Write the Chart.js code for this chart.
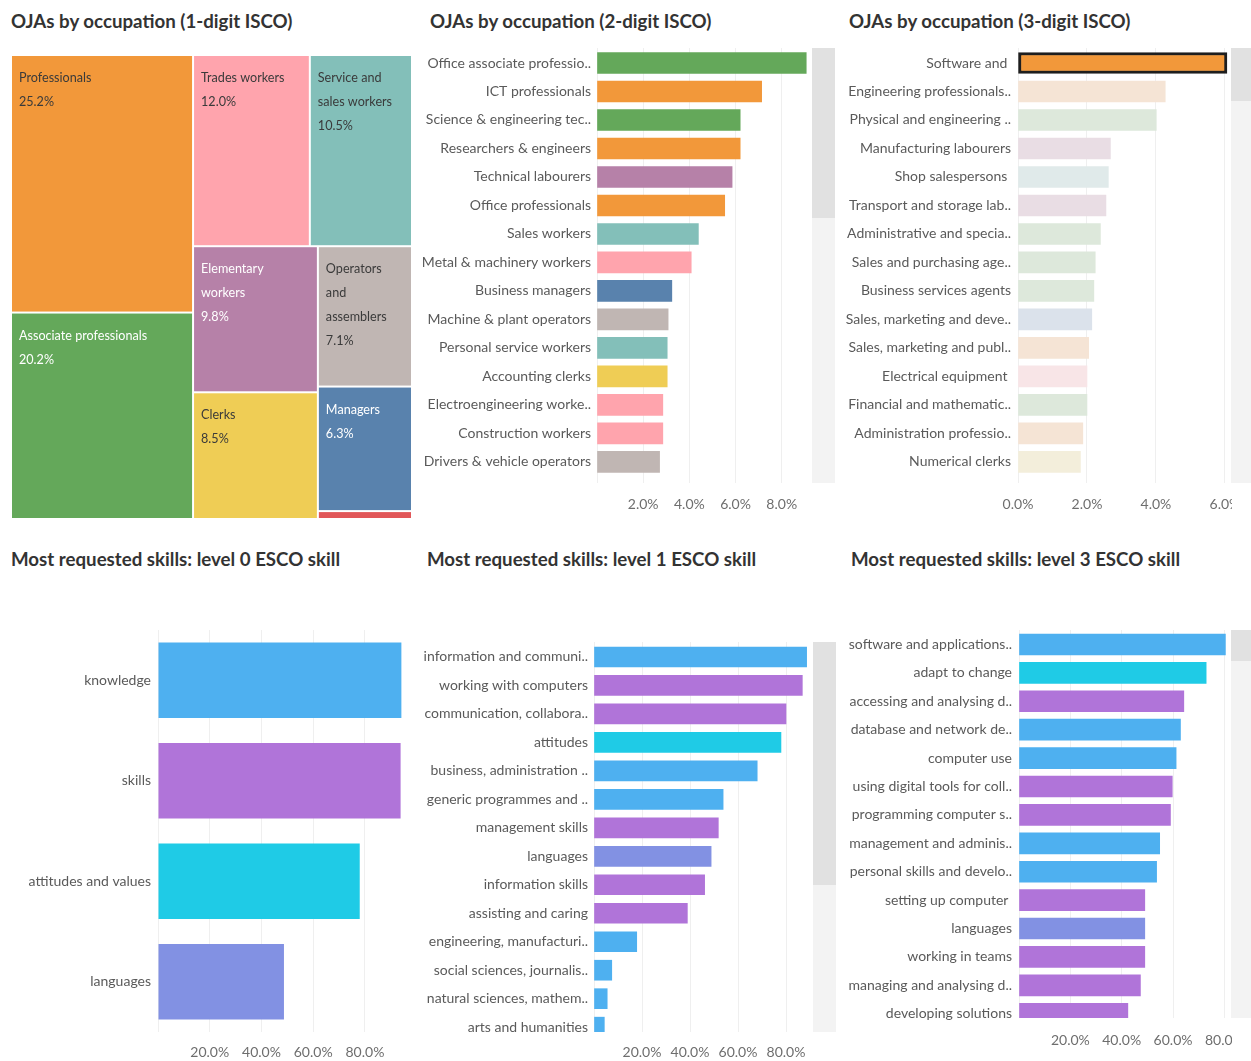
<!DOCTYPE html>
<html>
<head>
<meta charset="utf-8">
<script src="https://cdn.jsdelivr.net/npm/chart.js@4.4.1/dist/chart.umd.min.js"></script>
<style>
  body { margin: 0; background: #fff; }
  #board { position: relative; width: 1251px; height: 1061px; overflow: hidden; }
  .title { position: absolute; height: 24px; line-height: 24px; white-space: nowrap;
           font: bold 18.7px Lato, sans-serif; color: #333; }
  canvas { position: absolute; }
  .track { position: absolute; background: #f3f3f3; }
  .thumb { position: absolute; background: #e1e1e1; }
</style>
</head>
<body>
<div id="board">
  <div class="title" style="left:11px;top:10px">OJAs by occupation (1-digit ISCO)</div>
  <div class="title" style="left:430px;top:10px">OJAs by occupation (2-digit ISCO)</div>
  <div class="title" style="left:849px;top:10px">OJAs by occupation (3-digit ISCO)</div>
  <div class="title" style="left:11px;top:548px">Most requested skills: level 0 ESCO skill</div>
  <div class="title" style="left:427px;top:548px">Most requested skills: level 1 ESCO skill</div>
  <div class="title" style="left:851px;top:548px">Most requested skills: level 3 ESCO skill</div>

  <canvas id="isco1" width="420" height="490" style="left:0;top:40px"></canvas>
  <canvas id="isco2" width="392" height="480" style="left:420px;top:40px"></canvas>
  <canvas id="isco3" width="397" height="480" style="left:835px;top:40px"></canvas>
  <canvas id="skill0" width="410" height="461" style="left:0;top:600px"></canvas>
  <canvas id="skill1" width="398" height="461" style="left:415px;top:600px"></canvas>
  <canvas id="skill3" width="397" height="461" style="left:835px;top:600px"></canvas>

  <!-- scrollbars -->
  <div class="track" style="left:812px;top:48px;width:23px;height:435px"></div>
  <div class="thumb" style="left:812px;top:48px;width:23px;height:170px"></div>
  <div class="track" style="left:1231px;top:48px;width:20px;height:435px"></div>
  <div class="thumb" style="left:1231px;top:48px;width:20px;height:53px"></div>
  <div class="track" style="left:813px;top:642px;width:23px;height:390px"></div>
  <div class="thumb" style="left:813px;top:642px;width:23px;height:243px"></div>
  <div class="track" style="left:1231px;top:630px;width:20px;height:388px"></div>
  <div class="thumb" style="left:1231px;top:630px;width:20px;height:31px"></div>
</div>

<script>
// 1-digit ISCO (treemap)
const isco1Labels = ["Professionals", "Associate professionals", "Trades workers", "Service and sales workers",
    "Elementary workers", "Operators and assemblers", "Clerks", "Managers", "Armed forces"];
const isco1Text = ["Professionals", "Associate professionals", "Trades workers", "Service and\nsales workers",
    "Elementary\nworkers", "Operators\nand\nassemblers", "Clerks", "Managers", ""];
const isco1Values = [25.2, 20.2, 12.0, 10.5, 9.8, 7.1, 8.5, 6.3, 0.4];
// how the cells are nested: h = side by side, v = stacked
const isco1Tree = ["h", ["v", 0, 1], ["v", ["h", 2, 3], ["h", ["v", 4, 6], ["v", 5, 7, 8]]]];

// 2-digit ISCO
const isco2Labels = ["Office associate professio..", "ICT professionals", "Science & engineering tec..",
    "Researchers & engineers", "Technical labourers", "Office professionals", "Sales workers",
    "Metal & machinery workers", "Business managers", "Machine & plant operators", "Personal service workers",
    "Accounting clerks", "Electroengineering worke..", "Construction workers", "Drivers & vehicle operators"];
const isco2Values = [9.06, 7.13, 6.2, 6.2, 5.85, 5.53, 4.39, 4.08, 3.24, 3.08, 3.04, 3.04, 2.85, 2.85, 2.71];
const isco2Groups = ["Associate professionals", "Professionals", "Associate professionals", "Professionals",
    "Elementary workers", "Professionals", "Service and sales workers", "Trades workers", "Managers",
    "Operators and assemblers", "Service and sales workers", "Clerks", "Trades workers", "Trades workers",
    "Operators and assemblers"];

// 3-digit ISCO
const isco3Labels = ["Software and ", "Engineering professionals..", "Physical and engineering ..",
    "Manufacturing labourers", "Shop salespersons ", "Transport and storage lab..", "Administrative and specia..",
    "Sales and purchasing age..", "Business services agents", "Sales, marketing and deve..",
    "Sales, marketing and publ..", "Electrical equipment ", "Financial and mathematic..",
    "Administration professio..", "Numerical clerks"];
const isco3Values = [6.06, 4.27, 4.01, 2.68, 2.62, 2.55, 2.39, 2.24, 2.2, 2.14, 2.05, 2.0, 2.0, 1.88, 1.81];
const isco3Groups = ["Professionals", "Professionals", "Associate professionals", "Elementary workers",
    "Service and sales workers", "Elementary workers", "Associate professionals", "Associate professionals",
    "Associate professionals", "Managers", "Professionals", "Trades workers", "Associate professionals",
    "Professionals", "Clerks"];
const isco3Selected = 0;

// ESCO skills
const skill0Labels = ["knowledge", "skills", "attitudes and values", "languages"];
const skill0Values = [94.1, 93.8, 78.0, 48.7];

const skill1Labels = ["information and communi..", "working with computers", "communication, collabora..",
    "attitudes", "business, administration ..", "generic programmes and ..", "management skills", "languages",
    "information skills", "assisting and caring", "engineering, manufacturi..", "social sciences, journalis..",
    "natural sciences, mathem..", "arts and humanities"];
const skill1Values = [88.6, 86.8, 80.0, 77.9, 68.0, 53.8, 51.8, 48.8, 46.1, 38.9, 17.8, 7.4, 5.5, 4.3];
const skill1Types = ["knowledge", "skills", "skills", "attitudes and values", "knowledge", "knowledge", "skills",
    "languages", "skills", "skills", "knowledge", "knowledge", "knowledge", "knowledge"];

const skill3Labels = ["software and applications..", "adapt to change", "accessing and analysing d..",
    "database and network de..", "computer use", "using digital tools for coll..", "programming computer s..",
    "management and adminis..", "personal skills and develo..", "setting up computer ", "languages",
    "working in teams", "managing and analysing d..", "developing solutions"];
const skill3Values = [80.4, 72.9, 64.2, 62.9, 61.2, 59.7, 59.0, 54.8, 53.6, 49.0, 49.0, 49.0, 47.3, 42.4];
const skill3Types = ["knowledge", "attitudes and values", "skills", "knowledge", "knowledge", "skills", "skills",
    "knowledge", "knowledge", "skills", "languages", "skills", "skills", "skills"];

// colours
const groupColors = {
    "Professionals": "#f2983a", "Associate professionals": "#64a85a", "Trades workers": "#ffa4ad",
    "Service and sales workers": "#83bfb9", "Elementary workers": "#b681a8", "Operators and assemblers": "#c0b6b3",
    "Clerks": "#efcd55", "Managers": "#5982ad", "Armed forces": "#e15759"
};
const paleColors = {
    "Professionals": "#f5e4d5", "Associate professionals": "#dde8db", "Trades workers": "#f8e5e7",
    "Service and sales workers": "#e0eaea", "Elementary workers": "#e9dde4", "Operators and assemblers": "#e8e4e3",
    "Clerks": "#f3eedb", "Managers": "#dbe2eb", "Armed forces": "#f6dcdc"
};
const whiteText = ["Associate professionals", "Elementary workers", "Managers"];
const skillColors = {
    "knowledge": "#4eb0f0", "skills": "#b074d9", "attitudes and values": "#1fcbe6", "languages": "#8291e3"
};

Chart.defaults.font.family = "Lato";
Chart.defaults.animation = false;
Chart.defaults.devicePixelRatio = 1;

// ---- treemap ----
function nodeSum(node) {
    if (typeof node === "number") return isco1Values[node];
    return node.slice(1).reduce((s, k) => s + nodeSum(k), 0);
}

function layoutTree(node, x0, y0, x1, y1, out) {
    if (typeof node === "number") {
        out[node] = { x0, y0, x1, y1 };
        return;
    }
    const dir = node[0];
    const total = nodeSum(node);
    let pos = dir === "h" ? x0 : y0;
    node.slice(1).forEach(k => {
        const span = nodeSum(k) / total * (dir === "h" ? x1 - x0 : y1 - y0);
        if (dir === "h") layoutTree(k, pos, y0, pos + span, y1, out);
        else layoutTree(k, x0, pos, x1, pos + span, out);
        pos += span;
    });
}

const treemapPlugin = {
    id: "treemapCells",
    afterDatasetsDraw(chart) {
        const { ctx, scales: { x, y } } = chart;
        const cells = [];
        layoutTree(isco1Tree, 0, 0, 100, 100, cells);
        ctx.save();
        cells.forEach((c, i) => {
            const px0 = x.getPixelForValue(c.x0), px1 = x.getPixelForValue(c.x1);
            const py0 = y.getPixelForValue(c.y0), py1 = y.getPixelForValue(c.y1);
            ctx.fillStyle = groupColors[isco1Labels[i]];
            ctx.fillRect(px0 + 1, py0 + 1, px1 - px0 - 2, py1 - py0 - 2);
            if (py1 - py0 < 40) return;
            ctx.fillStyle = whiteText.includes(isco1Labels[i]) ? "#ffffff" : "#3a3a3a";
            ctx.font = "12.6px Lato";
            ctx.textBaseline = "middle";
            const lines = isco1Text[i].split("\n").concat([isco1Values[i].toFixed(1) + "%"]);
            lines.forEach((t, j) => ctx.fillText(t, px0 + 8, py0 + 23 + j * 24));
        });
        ctx.restore();
    }
};

new Chart(document.getElementById("isco1"), {
    type: "scatter",
    data: { datasets: [{ data: [] }] },
    options: {
        responsive: false,
        layout: { padding: { left: 11, right: 8, top: 15, bottom: 11 } },
        plugins: { legend: { display: false }, tooltip: { enabled: false } },
        scales: {
            x: { type: "linear", min: 0, max: 100, display: false },
            y: { type: "linear", min: 0, max: 100, reverse: true, display: false }
        }
    },
    plugins: [treemapPlugin]
});

// ---- horizontal bar panels ----
function pct(v) {
    return v.toFixed(1) + "%";
}

function barPanel(id, labels, values, colors, o) {
    const rowAxis = o.rows ? {
        type: "linear", reverse: true, min: o.rows[0], max: o.rows[1], offset: false, bounds: "data",
        afterBuildTicks: s => { s.ticks = labels.map((l, i) => ({ value: i })); },
        ticks: {
            autoSkip: false, padding: o.labelPad, color: "#5a5a5a", font: { size: 14 },
            callback: v => labels[v] !== undefined ? labels[v] : ""
        }
    } : {
        type: "category", labels: labels,
        ticks: { padding: o.labelPad, color: "#5a5a5a", font: { size: 14 } }
    };
    rowAxis.grid = { display: false, drawTicks: false };
    rowAxis.border = { display: false };
    rowAxis.afterFit = s => { s.width = o.yWidth; s.paddingTop = 0; s.paddingBottom = 0; };

    const data = o.rows ? values.map((v, i) => ({ x: v, y: i })) : values;

    return new Chart(document.getElementById(id), {
        type: "bar",
        data: {
            labels: o.rows ? undefined : labels,
            datasets: [{
                data: data,
                backgroundColor: colors,
                borderColor: o.borderColor || "transparent",
                borderWidth: o.borderWidth || 0,
                borderSkipped: false,
                barThickness: o.barThickness,
                barPercentage: o.barPercentage || 0.9,
                categoryPercentage: 1
            }]
        },
        options: {
            responsive: false,
            indexAxis: "y",
            layout: { padding: { top: o.top, right: o.right } },
            plugins: { legend: { display: false }, tooltip: { enabled: false } },
            scales: {
                x: {
                    type: "linear", min: 0, max: o.max,
                    grid: { color: "#efefef", drawTicks: false },
                    border: { display: false },
                    ticks: {
                        stepSize: o.step, includeBounds: false, padding: o.tickPad,
                        color: "#6e6e6e", font: { size: 14 },
                        callback: v => (v === 0 && !o.showZero) ? "" : pct(v)
                    },
                    afterFit: s => { s.height = o.xHeight; s.paddingLeft = 0; s.paddingRight = 0; }
                },
                y: rowAxis
            }
        }
    });
}

barPanel("isco2", isco2Labels, isco2Values, isco2Groups.map(g => groupColors[g]), {
    rows: [-0.526, 14.74], yWidth: 177, top: 8, right: 3, xHeight: 37, max: 9.18, step: 2,
    labelPad: 6, tickPad: 13, barThickness: 21
});

barPanel("isco3", isco3Labels, isco3Values,
    isco3Groups.map((g, i) => i === isco3Selected ? groupColors[g] : paleColors[g]), {
    rows: [-0.526, 14.74], yWidth: 183, top: 8, right: 4, xHeight: 37, max: 6.09, step: 2,
    labelPad: 7, tickPad: 13, barThickness: 21, showZero: true,
    borderColor: isco3Labels.map((l, i) => i === isco3Selected ? "#1e1e1e" : "transparent"),
    borderWidth: isco3Labels.map((l, i) => i === isco3Selected ? 3 : 0)
});

barPanel("skill0", skill0Labels, skill0Values, skill0Labels.map(t => skillColors[t]), {
    yWidth: 158, top: 30, right: 5, xHeight: 29, max: 95.5, step: 20,
    labelPad: 7, tickPad: 12, barPercentage: 0.75
});

barPanel("skill1", skill1Labels, skill1Values, skill1Types.map(t => skillColors[t]), {
    rows: [-0.526, 13.17], yWidth: 179, top: 42, right: 3, xHeight: 29, max: 90, step: 20,
    labelPad: 6, tickPad: 12, barThickness: 20
});

barPanel("skill3", skill3Labels, skill3Values, skill3Types.map(t => skillColors[t]), {
    rows: [-0.51, 13.15], yWidth: 184, top: 30, right: 3, xHeight: 43, max: 81.8, step: 20,
    labelPad: 7, tickPad: 14, barThickness: 21
});
</script>
</body>
</html>
